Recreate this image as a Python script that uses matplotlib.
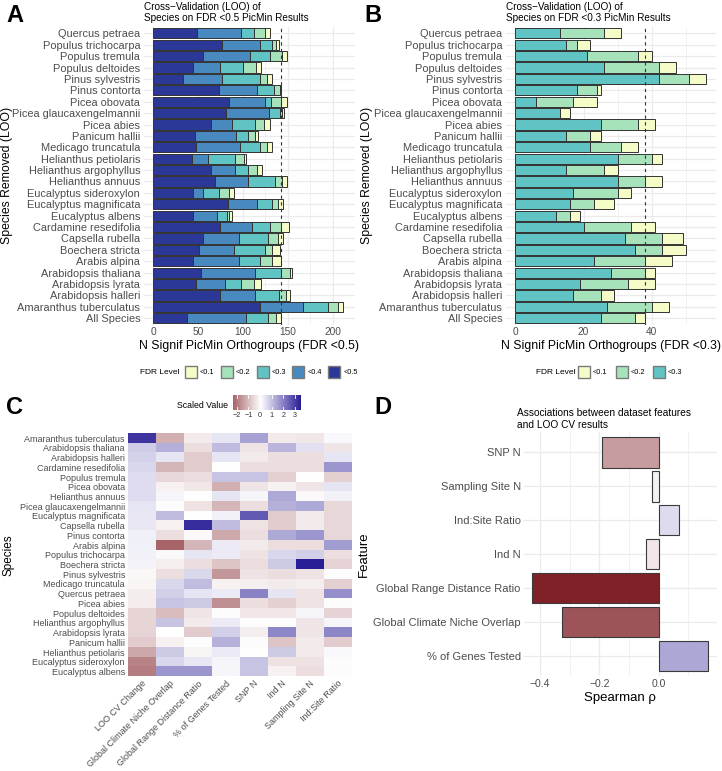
"""Leave-one-out cross-validation of PicMin results: stacked bars, heatmap and correlations."""

import numpy as np
import matplotlib

matplotlib.use("Agg")
import matplotlib.pyplot as plt
from matplotlib.colors import LinearSegmentedColormap, Normalize
from matplotlib.patches import Rectangle

W, H = 722, 771
plt.rcParams["font.family"] = ["Liberation Sans", "DejaVu Sans"]

TICK_GREY = "#4D4D4D"
GRID = "#EBEBEB"

# ---- panels A & B: species removed (top to bottom) ----
loo_species = [
    "Quercus petraea", "Populus trichocarpa", "Populus tremula", "Populus deltoides",
    "Pinus sylvestris", "Pinus contorta", "Picea obovata", "Picea glaucaxengelmannii",
    "Picea abies", "Panicum hallii", "Medicago truncatula", "Helianthus petiolaris",
    "Helianthus argophyllus", "Helianthus annuus", "Eucalyptus sideroxylon",
    "Eucalyptus magnificata", "Eucalyptus albens", "Cardamine resedifolia",
    "Capsella rubella", "Boechera stricta", "Arabis alpina", "Arabidopsis thaliana",
    "Arabidopsis lyrata", "Arabidopsis halleri", "Amaranthus tuberculatus", "All Species",
]

# A: orthogroups per FDR band (FDR < 0.5 run)
a_fdr05 = [49, 77, 56, 44, 33, 73, 85, 81, 64, 47, 48, 43, 64, 69, 44, 83, 44, 74, 55, 51, 44, 53, 48, 74, 119, 38]
a_fdr04 = [49, 42, 52, 30, 44, 43, 40, 48, 24, 45, 49, 18, 27, 37, 11, 33, 27, 36, 41, 39, 52, 61, 32, 39, 48, 65]
a_fdr03 = [14, 14, 22, 26, 42, 19, 6, 12, 25, 14, 22, 30, 15, 30, 18, 16, 11, 20, 32, 35, 23, 28, 18, 27, 28, 25]
a_fdr02 = [13, 4, 14, 15, 8, 6, 11, 3, 11, 7, 8, 10, 10, 8, 12, 7, 3, 13, 11, 8, 14, 10, 14, 8, 11, 9]
a_fdr01 = [5, 3, 5, 5, 6, 1, 7, 2, 6, 4, 6, 3, 5, 5, 5, 6, 3, 8, 6, 8, 9, 3, 8, 5, 6, 5]

# B: orthogroups per FDR band (FDR < 0.3 run)
b_fdr03 = [13, 15, 21, 26, 42, 18, 6, 13, 25, 15, 22, 30, 15, 30, 17, 16, 12, 20, 32, 35, 23, 28, 19, 17, 27, 25]
b_fdr02 = [13, 3, 15, 16, 9, 6, 11, 0, 11, 7, 9, 10, 11, 8, 13, 7, 4, 14, 11, 8, 15, 10, 14, 8, 13, 10]
b_fdr01 = [5, 4, 4, 5, 5, 1, 7, 3, 5, 3, 5, 3, 4, 5, 4, 6, 3, 7, 6, 7, 8, 3, 8, 4, 5, 3]

fdr_labels = ["<0.1", "<0.2", "<0.3", "<0.4", "<0.5"]
fdr_colors = {"<0.1": "#F6FCC8", "<0.2": "#A6E2BA", "<0.3": "#60C4C4",
              "<0.4": "#4889C0", "<0.5": "#2B3898"}

# ---- panel C: scaled features per species (top to bottom) ----
heat_species = [
    "Amaranthus tuberculatus", "Arabidopsis thaliana", "Arabidopsis halleri",
    "Cardamine resedifolia", "Populus tremula", "Picea obovata", "Helianthus annuus",
    "Picea glaucaxengelmannii", "Eucalyptus magnificata", "Capsella rubella",
    "Pinus contorta", "Arabis alpina", "Populus trichocarpa", "Boechera stricta",
    "Pinus sylvestris", "Medicago truncatula", "Quercus petraea", "Picea abies",
    "Populus deltoides", "Helianthus argophyllus", "Arabidopsis lyrata",
    "Panicum hallii", "Helianthus petiolaris", "Eucalyptus sideroxylon", "Eucalyptus albens",
]
heat_features = ["LOO CV Change", "Global Climate Niche Overlap", "Global Range Distance Ratio",
                 "% of Genes Tested", "SNP N", "Ind N", "Sampling Site N", "Ind:Site Ratio"]
loo_change = [3.10, 0.77, 0.69, 0.61, 0.53, 0.53, 0.52, 0.40, 0.36, 0.36, 0.24, 0.23, 0.20,
              0.17, -0.13, -0.14, -0.26, -0.27, -0.62, -0.64, -0.66, -0.79, -1.33, -1.90, -1.98]
climate_overlap = [-1.2, 1.2, 0.4, -1.1, -0.6, -0.2, 0.15, 0.05, 1.0, -0.2, -0.5, -2.34, -0.1,
                   -0.25, -0.5, 0.6, 0.7, 0.9, -1.0, 0.9, 0.0, -0.2, 0.8, 0.6, 1.6]
range_ratio = [-0.3, -0.5, -0.8, -0.8, -0.5, -0.35, 0.0, -0.45, 0.02, 3.2, -0.1, -1.1, 0.4,
               -0.5, 0.6, 1.0, 0.4, 0.8, -0.4, -0.3, -0.8, 0.05, -0.15, 0.35, 1.6]
genes_tested = [0.4, 1.0, 0.4, 0.0, 0.9, -1.2, 0.4, -1.1, 0.2, 1.0, -1.3, 0.3, 0.3, -0.9,
                -1.6, -0.2, 0.3, -1.7, 0.05, 0.3, 0.7, 1.2, 0.3, 0.15, 0.15]
snp_n = [1.4, -0.4, -0.3, -0.5, 0.9, -0.4, 0.15, -0.5, 2.5, -0.45, -0.5, -0.3, -0.45, -0.5,
         -0.45, -0.25, 1.9, -0.5, -0.35, 0.05, -0.25, 0.05, 0.0, 0.9, 0.9]
ind_n = [-0.3, 1.1, -0.5, -0.5, -0.7, -0.2, 1.3, 1.2, -0.8, -0.8, 1.3, -0.5, 0.6, 0.8, -0.5,
         -0.3, 0.4, -0.7, -0.35, 0.05, 1.8, -0.9, 0.8, -0.45, -0.2]
site_n = [-0.35, 0.45, -0.5, -0.5, 0.0, -0.4, -0.1, 1.3, -0.3, -0.3, 1.6, -0.5, 0.7, 3.43,
          -0.45, -0.25, -0.45, -0.45, 0.15, -0.4, -0.4, -0.3, -0.3, -0.45, -0.5]
ind_site = [0.1, -0.4, 0.4, 1.6, -0.7, 0.4, 0.2, -0.6, -0.6, -0.6, -0.6, 1.5, -0.5, -0.65,
            0.05, -0.7, 1.7, 0.05, -0.65, 0.15, 1.8, -0.8, 0.1, -0.05, -0.05]

# ---- panel D: Spearman correlation with LOO CV change ----
d_features = ["SNP N", "Sampling Site N", "Ind:Site Ratio", "Ind N",
              "Global Range Distance Ratio", "Global Climate Niche Overlap", "% of Genes Tested"]
d_rho = [-0.19, -0.024, 0.07, -0.044, -0.426, -0.326, 0.166]

div_cmap = LinearSegmentedColormap.from_list("rwb", ["#7F1F25", "#FFFFFF", "#2A1E96"])


def px_axes(fig, left, top, right, bottom):
    return fig.add_axes([left / W, 1 - bottom / H, (right - left) / W, (bottom - top) / H])


def style_axes(ax):
    for spine in ax.spines.values():
        spine.set_visible(False)
    ax.tick_params(length=0, colors=TICK_GREY, labelsize=7.3)
    ax.set_axisbelow(True)


def stacked_bars(ax, bands, labels, title, xlabel, major, minor):
    n = len(loo_species)
    y = np.arange(n)
    left = np.zeros(n)
    # leftmost band is the loosest FDR level
    for vals, lab in zip(bands, labels):
        vals = np.asarray(vals, dtype=float)
        ax.barh(y, vals, left=left, height=0.9, color=fdr_colors[lab],
                edgecolor="#333333", linewidth=0.7)
        left += vals
    total_all = left[-1]
    ax.axvline(total_all, color="#333333", linestyle=(0, (3, 3)), linewidth=0.8)
    xmax = left.max()
    pad = xmax * 0.05
    ax.set_xlim(-pad, xmax + pad)
    ax.set_ylim(n - 0.4, -0.6)
    ax.set_yticks(y)
    ax.set_yticklabels(loo_species)
    ax.set_xticks(major)
    ax.set_xticks(minor, minor=True)
    style_axes(ax)
    ax.tick_params(axis="y", labelsize=7.9, pad=2.5)
    ax.tick_params(axis="x", labelsize=7.3, pad=1.5)
    ax.tick_params(which="minor", length=0)
    ax.grid(True, which="major", color=GRID, linewidth=0.9)
    ax.grid(True, which="minor", axis="x", color=GRID, linewidth=0.5)
    ax.set_xlabel(xlabel, fontsize=8.8, labelpad=2)
    ax.set_title(title, fontsize=7.2, loc="left", pad=4, linespacing=1.1)


def fdr_legend(fig, title_right, box_left, step, y, labels):
    fig.text(title_right / W, 1 - y / H, "FDR Level", fontsize=6, ha="right", va="center")
    for i, lab in enumerate(labels):
        x0 = box_left + i * step
        fig.add_artist(Rectangle((x0 / W, 1 - (y + 6) / H), 12 / W, 12 / H,
                                 transform=fig.transFigure, facecolor=fdr_colors[lab],
                                 edgecolor="#7A7A7A", linewidth=1.0))
        fig.text((x0 + 15) / W, 1 - y / H, lab, fontsize=5.3, ha="left", va="center")


fig = plt.figure(figsize=(W / 100, H / 100), dpi=100)

# panel A
ax_a = px_axes(fig, 143.7, 26.5, 355, 325.1)
stacked_bars(ax_a, [a_fdr05, a_fdr04, a_fdr03, a_fdr02, a_fdr01],
             ["<0.5", "<0.4", "<0.3", "<0.2", "<0.1"],
             "Cross\u2212Validation (LOO) of\nSpecies on FDR <0.5 PicMin Results",
             "N Signif PicMin Orthogroups (FDR <0.5)", [0, 50, 100, 150, 200],
             [25, 75, 125, 175, 225])
ax_a.set_ylabel("Species Removed (LOO)", fontsize=8.8)
ax_a.yaxis.set_label_coords(-0.619, 0.5)

# panel B
ax_b = px_axes(fig, 505.7, 26.5, 716, 325.1)
stacked_bars(ax_b, [b_fdr03, b_fdr02, b_fdr01], ["<0.3", "<0.2", "<0.1"],
             "Cross\u2212Validation (LOO) of\nSpecies on FDR <0.3 PicMin Results",
             "N Signif PicMin Orthogroups (FDR <0.3)", [0, 20, 40], [10, 30, 50])
ax_b.set_ylabel("Species Removed (LOO)", fontsize=8.8)
ax_b.yaxis.set_label_coords(-0.631, 0.5)

fdr_legend(fig, 180, 185, 35.8, 372, fdr_labels)
fdr_legend(fig, 575, 578, 37.5, 372, fdr_labels[:3])

# panel C heatmap
heat = np.column_stack([loo_change, climate_overlap, range_ratio, genes_tested,
                        snp_n, ind_n, site_n, ind_site])
lim = np.abs(heat).max()
heat_norm = Normalize(-lim, lim)
ax_c = px_axes(fig, 127.7, 433.3, 351.7, 676.3)
ax_c.imshow(heat, aspect="auto", cmap=div_cmap, norm=heat_norm, interpolation="nearest")
ax_c.set_xticks(np.arange(len(heat_features)))
ax_c.set_xticklabels(heat_features, rotation=45, ha="right", va="top", rotation_mode="anchor")
ax_c.set_yticks(np.arange(len(heat_species)))
ax_c.set_yticklabels(heat_species)
style_axes(ax_c)
ax_c.tick_params(labelsize=6.5, pad=2)
ax_c.set_ylabel("Species", fontsize=8.5, labelpad=4)

# colour bar for C
cax = px_axes(fig, 232.7, 395, 300, 410)
grad = np.linspace(heat.min(), heat.max(), 256)
cax.imshow(grad[None, :], aspect="auto", cmap=div_cmap, norm=heat_norm,
           extent=[heat.min(), heat.max(), 0, 1])
for t in range(-2, 4):
    cax.plot([t, t], [0, 0.2], color="white", linewidth=0.6)
    cax.plot([t, t], [0.8, 1], color="white", linewidth=0.6)
cax.set_xticks(range(-2, 4))
cax.set_xticklabels(["\u22122", "\u22121", "0", "1", "2", "3"])
cax.set_yticks([])
style_axes(cax)
cax.tick_params(labelsize=5.2, pad=1.5, colors="#333333")
fig.text(228 / W, 1 - 406 / H, "Scaled Value", fontsize=6.3, ha="right", va="center")

# panel D
ax_d = px_axes(fig, 523.5, 431.9, 716.7, 676.4)
yd = np.arange(len(d_features))
d_norm = Normalize(-0.43, 0.43)
ax_d.barh(yd, d_rho, height=0.9, color=div_cmap(d_norm(np.asarray(d_rho))),
          edgecolor="#3A3A3A", linewidth=0.8)
span = max(d_rho) - min(d_rho)
ax_d.set_xlim(min(d_rho) - 0.05 * span, max(d_rho) + 0.05 * span)
ax_d.set_ylim(len(d_features) - 0.4, -0.6)
ax_d.set_yticks(yd)
ax_d.set_yticklabels(d_features)
ax_d.set_xticks([-0.4, -0.2, 0.0])
ax_d.set_xticklabels(["\u22120.4", "\u22120.2", "0.0"])
ax_d.set_xticks([-0.3, -0.1, 0.1], minor=True)
style_axes(ax_d)
ax_d.tick_params(which="minor", length=0)
ax_d.tick_params(axis="y", labelsize=8, pad=2)
ax_d.tick_params(axis="x", labelsize=7.5, pad=2)
ax_d.grid(True, which="major", color=GRID, linewidth=0.9)
ax_d.grid(True, which="minor", axis="x", color=GRID, linewidth=0.5)
ax_d.set_xlabel("Spearman \u03c1", fontsize=9.5, labelpad=2)
ax_d.set_ylabel("Feature", fontsize=9.5, labelpad=2)
fig.text(517 / W, 1 - 419 / H, "Associations between dataset features\nand LOO CV results",
         fontsize=7.3, ha="left", va="center", linespacing=1.15)

# panel letters
for letter, x, y in [("A", 6, 16), ("B", 364, 16), ("C", 6, 407), ("D", 374, 407)]:
    fig.text(x / W, 1 - y / H, letter, fontsize=17, fontweight="bold", ha="left", va="center")

fig.savefig("out.png", dpi=100)
